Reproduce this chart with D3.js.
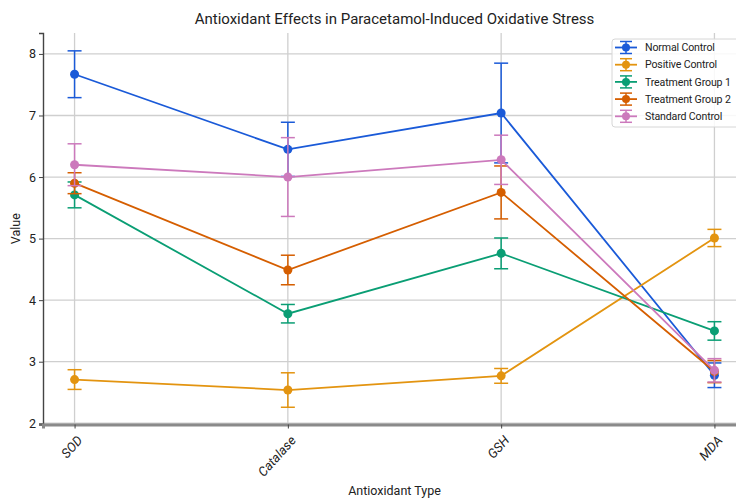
<!DOCTYPE html>
<html>
<head>
<meta charset="utf-8">
<script src="https://cdn.jsdelivr.net/npm/d3@7"></script>
<style>
	html, body { margin: 0; padding: 0; background: #fff; }
	svg { display: block; overflow: hidden; }
	text { font-family: Roboto, "Open Sans", sans-serif; }
</style>
</head>
<body>
<div id="chart"></div>
<script>
/* chart data */
const categories = ["SOD", "Catalase", "GSH", "MDA"];
const groups = ["Normal Control", "Positive Control", "Treatment Group 1", "Treatment Group 2", "Standard Control"];

const normalMean = [7.67, 6.45, 7.04, 2.78];
const normalErr = [0.38, 0.44, 0.81, 0.20];
const positiveMean = [2.71, 2.54, 2.77, 5.01];
const positiveErr = [0.16, 0.28, 0.12, 0.14];
const treat1Mean = [5.71, 3.78, 4.76, 3.50];
const treat1Err = [0.21, 0.15, 0.25, 0.15];
const treat2Mean = [5.90, 4.49, 5.75, 2.84];
const treat2Err = [0.17, 0.24, 0.43, 0.18];
const standardMean = [6.20, 6.00, 6.28, 2.86];
const standardErr = [0.34, 0.64, 0.40, 0.19];

const yTicks = [2, 3, 4, 5, 6, 7, 8];
const colors = ["#1a5ad8", "#e39410", "#0a9e74", "#d55e00", "#cc79bc"];

const opt = {
	width: 736,
	height: 499,
	margin: { top: 33, right: -10, bottom: 74.5, left: 43 },
	radius: 4.5,
	cap: 7
};

/* pair up the arrays per group */
const series = [
	{ name: groups[0], mean: normalMean, err: normalErr, color: colors[0] },
	{ name: groups[1], mean: positiveMean, err: positiveErr, color: colors[1] },
	{ name: groups[2], mean: treat1Mean, err: treat1Err, color: colors[2] },
	{ name: groups[3], mean: treat2Mean, err: treat2Err, color: colors[3] },
	{ name: groups[4], mean: standardMean, err: standardErr, color: colors[4] }
];

const innerW = opt.width - opt.margin.left - opt.margin.right;
const innerH = opt.height - opt.margin.top - opt.margin.bottom;

const svg = d3.select("#chart").append("svg")
	.attr("width", opt.width)
	.attr("height", opt.height);

const g = svg.append("g")
	.attr("transform", `translate(${opt.margin.left},${opt.margin.top})`);

const x = d3.scalePoint()
	.domain(categories)
	.range([0, innerW])
	.padding(0.148);

const y = d3.scaleLinear()
	.domain([1.98, 8.34])
	.range([innerH, 0]);

/* grid */
g.append("g").selectAll("line.hgrid")
	.data(yTicks)
	.enter().append("line")
		.attr("x1", 0).attr("x2", innerW)
		.attr("y1", d => y(d)).attr("y2", d => y(d))
		.style("stroke", "#cfcfcf")
		.style("stroke-width", 1.3);

g.append("g").selectAll("line.vgrid")
	.data(categories)
	.enter().append("line")
		.attr("x1", d => x(d)).attr("x2", d => x(d))
		.attr("y1", 0).attr("y2", innerH)
		.style("stroke", "#cfcfcf")
		.style("stroke-width", 1.3);

/* axes */
const yAxis = g.append("g")
	.call(d3.axisLeft(y).tickValues(yTicks).tickSize(4).tickPadding(3).tickFormat(d3.format("d")));
yAxis.select(".domain").style("stroke", "#444").style("stroke-width", 1.4);
yAxis.selectAll(".tick line").style("stroke", "#444");
yAxis.selectAll(".tick text").style("font-size", "12.5px").style("fill", "#222");

const xAxis = g.append("g")
	.attr("transform", `translate(0,${innerH})`)
	.call(d3.axisBottom(x).tickSize(4).tickPadding(4));
xAxis.select(".domain").style("stroke", "#8a8a8a").style("stroke-width", 3);
xAxis.selectAll(".tick line").style("stroke", "#444");
xAxis.selectAll(".tick text")
	.style("font-size", "13px")
	.style("fill", "#222")
	.style("font-style", "italic")
	.attr("text-anchor", "end")
	.attr("dy", "0.35em")
	.attr("transform", "translate(-1,8) rotate(-48)");

/* series */
const line = d3.line()
	.x((d, i) => x(categories[i]))
	.y(d => y(d));

series.forEach(s => {
	const sg = g.append("g");
	sg.append("path")
		.datum(s.mean)
		.attr("d", line)
		.style("fill", "none")
		.style("stroke", s.color)
		.style("stroke-width", 1.8);

	const bars = sg.selectAll("g.err")
		.data(s.mean.map((m, i) => ({ cat: categories[i], m: m, e: s.err[i] })))
		.enter().append("g")
			.attr("transform", d => `translate(${x(d.cat)},0)`)
			.style("stroke", s.color)
			.style("stroke-width", 1.5);
	bars.append("line")
		.attr("y1", d => y(d.m - d.e)).attr("y2", d => y(d.m + d.e));
	bars.append("line")
		.attr("x1", -opt.cap).attr("x2", opt.cap)
		.attr("y1", d => y(d.m + d.e)).attr("y2", d => y(d.m + d.e));
	bars.append("line")
		.attr("x1", -opt.cap).attr("x2", opt.cap)
		.attr("y1", d => y(d.m - d.e)).attr("y2", d => y(d.m - d.e));

	sg.selectAll("circle")
		.data(s.mean)
		.enter().append("circle")
			.attr("cx", (d, i) => x(categories[i]))
			.attr("cy", d => y(d))
			.attr("r", opt.radius)
			.style("fill", s.color);
});

/* titles */
svg.append("text")
	.attr("x", opt.margin.left + innerW / 2)
	.attr("y", 24)
	.attr("text-anchor", "middle")
	.style("font-size", "15px")
	.style("fill", "#222")
	.text("Antioxidant Effects in Paracetamol-Induced Oxidative Stress");

svg.append("text")
	.attr("x", opt.margin.left + innerW / 2)
	.attr("y", 495)
	.attr("text-anchor", "middle")
	.style("font-size", "12.5px")
	.style("fill", "#222")
	.text("Antioxidant Type");

svg.append("text")
	.attr("transform", `translate(20,${opt.margin.top + innerH / 2}) rotate(-90)`)
	.attr("text-anchor", "middle")
	.style("font-size", "12.5px")
	.style("fill", "#222")
	.text("Value");

/* legend */
const lg = svg.append("g").attr("transform", "translate(612,39)");
lg.append("rect")
	.attr("width", 130).attr("height", 88)
	.attr("rx", 3)
	.style("fill", "#fff")
	.style("fill-opacity", 0.85)
	.style("stroke", "#d6d6d6");

const item = lg.selectAll("g.item")
	.data(series)
	.enter().append("g")
		.attr("transform", (d, i) => `translate(0,${8.5 + i * 17.2})`);
item.append("line")
	.attr("x1", 3).attr("x2", 25)
	.style("stroke", d => d.color).style("stroke-width", 1.8);
item.append("line")
	.attr("x1", 14).attr("x2", 14).attr("y1", -6).attr("y2", 6)
	.style("stroke", d => d.color).style("stroke-width", 1.5);
item.append("line")
	.attr("x1", 8).attr("x2", 20).attr("y1", -6).attr("y2", -6)
	.style("stroke", d => d.color).style("stroke-width", 1.5);
item.append("line")
	.attr("x1", 8).attr("x2", 20).attr("y1", 6).attr("y2", 6)
	.style("stroke", d => d.color).style("stroke-width", 1.5);
item.append("circle")
	.attr("cx", 14).attr("r", 4)
	.style("fill", d => d.color);
item.append("text")
	.attr("x", 33)
	.attr("dy", "0.35em")
	.style("font-size", "10.6px")
	.style("letter-spacing", "-0.15px")
	.style("fill", "#222")
	.text(d => d.name);
</script>
</body>
</html>
